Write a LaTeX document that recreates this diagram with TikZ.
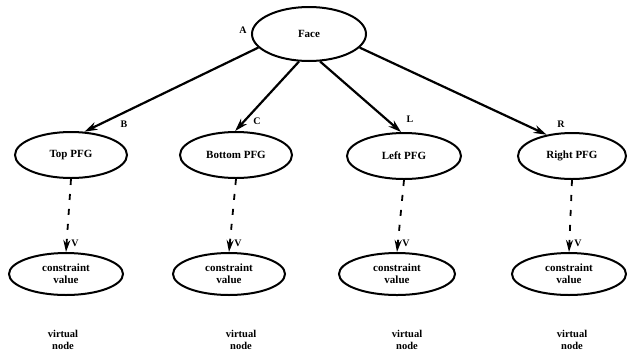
\documentclass[tikz,border=0pt]{standalone}
\usepackage{fontspec}
\setmainfont{Liberation Serif}
\usetikzlibrary{shapes.geometric,arrows.meta}
\tikzset{
  oval/.style={draw=black, line width=2pt, ellipse, inner sep=0pt, align=center, font=\bfseries\fontsize{11}{12}\selectfont},
  tree/.style={line width=2.2pt, -{Stealth[length=13pt,width=8pt]}},
  dots/.style={line width=1.8pt, dash pattern=on 6pt off 9pt, -{Stealth[length=12pt,width=7pt]}},
  lab/.style={font=\bfseries\fontsize{10}{11}\selectfont, inner sep=0pt},
  vlab/.style={font=\bfseries\fontsize{10.5}{12}\selectfont, align=center, inner sep=0pt}
}
\begin{document}
\begin{tikzpicture}[x=1pt,y=-1pt]
\useasboundingbox (0,0) rectangle (627,360);
% root
\node[oval, minimum width=114pt, minimum height=54pt] (face) at (309,34) {Face};
% level 2
\node[oval, minimum width=112pt, minimum height=46pt] (top) at (71,155) {Top PFG};
\node[oval, minimum width=112pt, minimum height=46pt] (bot) at (236,155) {Bottom PFG};
\node[oval, minimum width=114pt, minimum height=46pt] (left) at (404,156) {Left PFG};
\node[oval, minimum width=108pt, minimum height=46pt] (right) at (572,156) {Right PFG};
% level 3
\node[oval, minimum width=114pt, minimum height=42pt] (c1) at (66,274) {constraint\\value};
\node[oval, minimum width=112pt, minimum height=42pt] (c2) at (229,274) {constraint\\value};
\node[oval, minimum width=116pt, minimum height=42pt] (c3) at (397,274) {constraint\\value};
\node[oval, minimum width=114pt, minimum height=42pt] (c4) at (569,274) {constraint\\value};
% virtual node labels
\node[vlab] (v1) at (63,340) {virtual\\node};
\node[vlab] (v2) at (241,340) {virtual\\node};
\node[vlab] (v3) at (407,340) {virtual\\node};
\node[vlab] (v4) at (572,340) {virtual\\node};
% edges from root
\draw[tree] (face.195) -- (top.60);
\draw[tree] (face.250) -- (bot.92);
\draw[tree] (face.292) -- (left.97);
\draw[tree] (face.345) -- (right.140);
% edge labels
\node[lab] (la) at (243,30) {A};
\node[lab] (lb) at (124,124) {B};
\node[lab] (lc) at (257,121) {C};
\node[lab] (ll) at (410,119) {L};
\node[lab] (lr) at (561,124) {R};
% dotted arrows
\draw[dots] (top.south) -- (c1.north);
\draw[dots] (bot.south) -- (c2.north);
\draw[dots] (left.south) -- (c3.north);
\draw[dots] (right.south) -- (c4.north);
\node[lab] (w1) at ([xshift=9pt,yshift=9pt]c1.north) {V};
\node[lab] (w2) at ([xshift=9pt,yshift=9pt]c2.north) {V};
\node[lab] (w3) at ([xshift=9pt,yshift=9pt]c3.north) {V};
\node[lab] (w4) at ([xshift=9pt,yshift=9pt]c4.north) {V};
\end{tikzpicture}
\end{document}
